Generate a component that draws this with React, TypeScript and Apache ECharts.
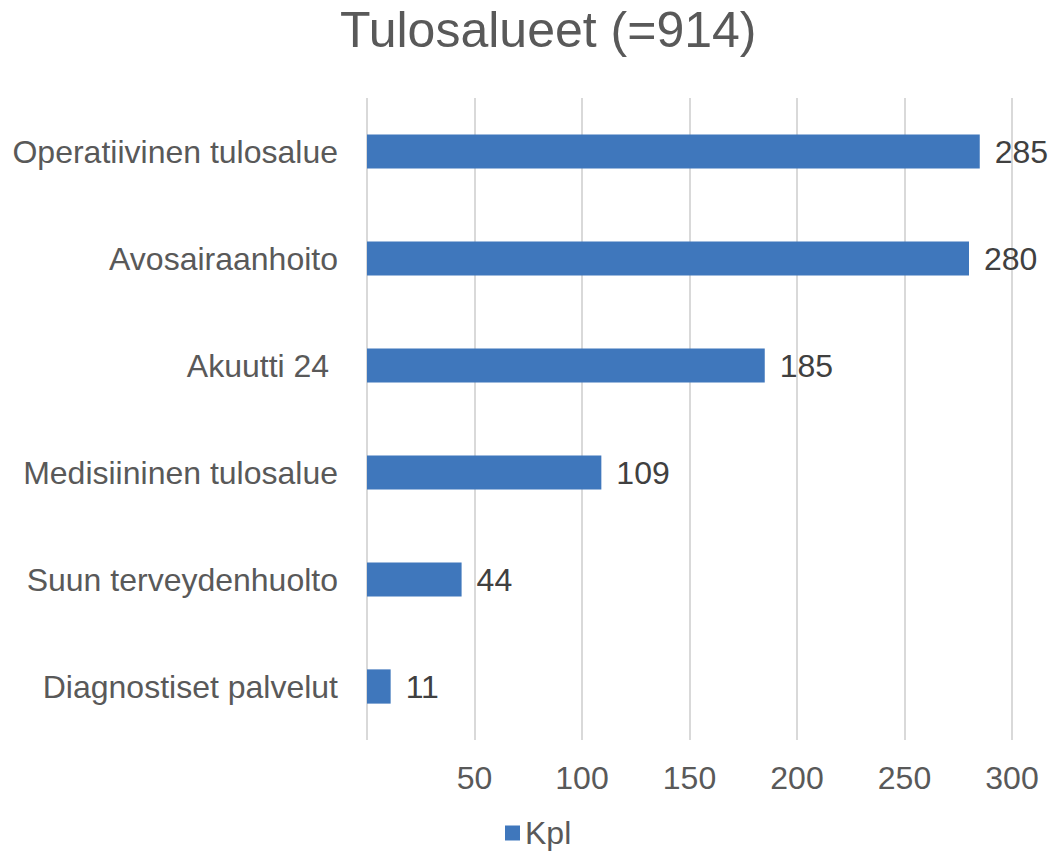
import React, { useEffect, useRef } from "react";
import * as echarts from "echarts";

const categories = [
  "Operatiivinen tulosalue",
  "Avosairaanhoito",
  "Akuutti 24 ",
  "Medisiininen tulosalue",
  "Suun terveydenhuolto",
  "Diagnostiset palvelut",
];
const values = [285, 280, 185, 109, 44, 11];
const seriesName = "Kpl";
const titleText = "Tulosalueet (=914)";

export default function App() {
  const ref = useRef<HTMLDivElement>(null);
  useEffect(() => {
    document.body.style.margin = "0";
    if (!ref.current) return;
    const chart = echarts.init(ref.current, null, { renderer: "svg" });
    const font = "'Liberation Sans', Arial, sans-serif";
    chart.setOption({
      animation: false,
      title: {
        text: titleText,
        left: 335,
        top: 0,
        textStyle: { fontFamily: font, fontSize: 50, fontWeight: "normal", color: "#595959" },
      },
      legend: {
        bottom: 0,
        left: 500,
        itemWidth: 15,
        itemHeight: 15,
        itemGap: 4,
        icon: "rect",
        textStyle: { fontFamily: font, fontSize: 32, color: "#595959" },
        data: [seriesName],
      },
      grid: { left: 367, right: 41, top: 98, bottom: 114, containLabel: false },
      xAxis: {
        type: "value",
        min: 0,
        max: 300,
        interval: 50,
        axisLine: { show: false },
        axisTick: { show: false },
        splitLine: { show: true, lineStyle: { color: "#d9d9d9", width: 2 } },
        axisLabel: {
          showMinLabel: false,
          margin: 22,
          fontFamily: font,
          fontSize: 32,
          color: "#595959",
        },
      },
      yAxis: {
        type: "category",
        data: categories,
        inverse: true,
        axisLine: { show: false },
        axisTick: { show: false },
        axisLabel: { margin: 29, fontFamily: font, fontSize: 32, color: "#595959" },
      },
      series: [
        {
          name: seriesName,
          type: "bar",
          data: values,
          barWidth: "32%",
          itemStyle: { color: "#3f77bc" },
          label: {
            show: true,
            position: "right",
            distance: 15,
            fontFamily: font,
            fontSize: 32,
            color: "#404040",
          },
        },
      ],
    });
    return () => chart.dispose();
  }, []);
  return <div ref={ref} style={{ width: 1053, height: 854 }} />;
}
